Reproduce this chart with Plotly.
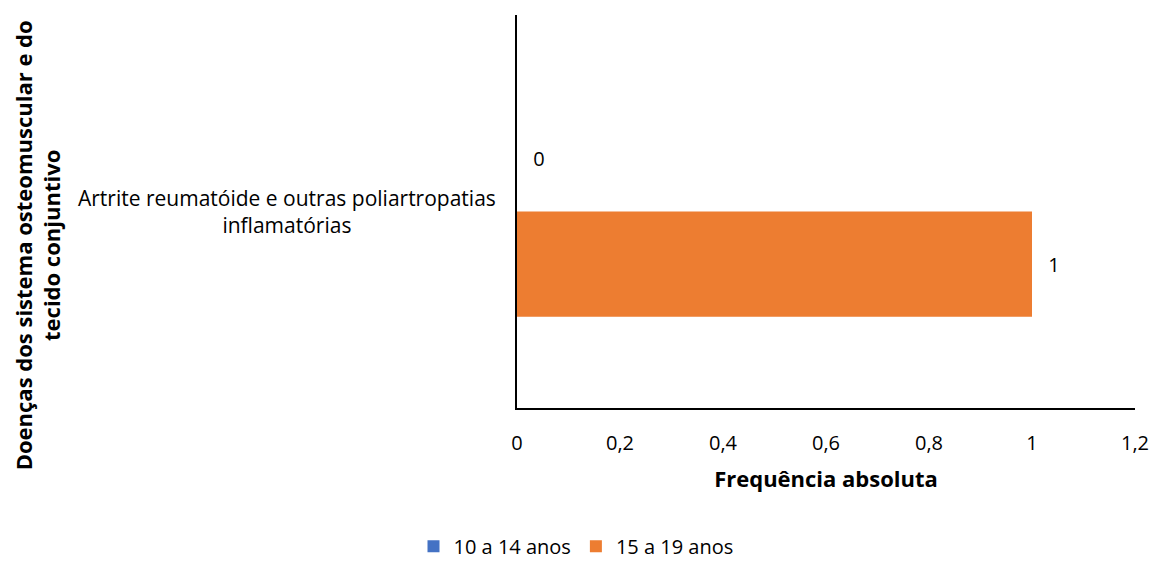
import plotly.graph_objects as go

categories = ["Artrite reumatóide e outras poliartropatias<br>inflamatórias"]
series_names = ["10 a 14 anos", "15 a 19 anos"]
values_10_14 = [0]
values_15_19 = [1]
colors = ["#4472C4", "#ED7D31"]
tick_vals = [0, 0.2, 0.4, 0.6, 0.8, 1, 1.2]
tick_text = ["0", "0,2", "0,4", "0,6", "0,8", "1", "1,2"]

FONT = "Open Sans, Lato, sans-serif"

fig = go.Figure()
for name, vals, col in zip(series_names, [values_10_14, values_15_19], colors):
    fig.add_trace(go.Bar(
        y=categories, x=vals, name=name, orientation="h",
        marker=dict(color=col, line=dict(width=0)),
        texttemplate="\u2002\u2009%{x}", textposition="outside",
        textfont=dict(size=20, color="#000000", family=FONT),
        cliponaxis=False,
    ))

fig.update_layout(
    width=1152, height=561,
    margin=dict(l=517, r=17, t=15, b=153, autoexpand=False),
    paper_bgcolor="white", plot_bgcolor="white",
    barmode="group", bargap=0.465, bargroupgap=0,
    font=dict(family=FONT, size=20, color="#000000"),
    showlegend=True,
    legend=dict(orientation="h", xref="container", x=0.5, xanchor="center",
                y=-0.352, yanchor="middle", itemwidth=30,
                font=dict(size=20), traceorder="normal"),
    xaxis=dict(range=[0, 1.2], tickvals=tick_vals, ticktext=tick_text,
               showgrid=False, zeroline=False, showline=True, linecolor="#000000",
               linewidth=1.5, ticks="", ticklabelstandoff=16,
               tickfont=dict(size=20),
               title=dict(text="<b>Frequência absoluta</b>", font=dict(size=22), standoff=17)),
    yaxis=dict(autorange="reversed", showgrid=False, zeroline=False, showline=True,
               linecolor="#000000", linewidth=1.5, showticklabels=False, ticks=""),
)

fig.add_annotation(
    x=-0.372, xref="paper", y=categories[0], yref="y",
    text=categories[0], showarrow=False, align="center",
    xanchor="center", yanchor="middle", font=dict(size=21),
)
fig.add_annotation(
    x=-0.776, xref="paper", y=0.415, yref="paper",
    text="<b>Doenças dos sistema osteomuscular e do<br>tecido conjuntivo</b>",
    showarrow=False, textangle=-90, align="center",
    xanchor="center", yanchor="middle", font=dict(size=22),
)

fig.write_html("out.html", config={"displayModeBar": False},
               post_script="document.body.style.margin='0';")
